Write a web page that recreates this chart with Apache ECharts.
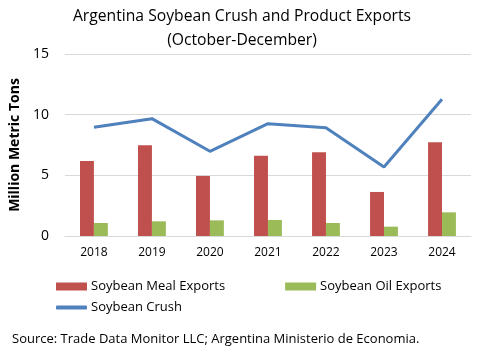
<!DOCTYPE html>
<html>
<head>
<meta charset="utf-8">
<script src="https://cdn.jsdelivr.net/npm/echarts@6/dist/echarts.min.js"></script>
<style>html,body{margin:0;padding:0;background:#fff}#c{width:484px;height:363px}</style>
</head>
<body>
<div id="c"></div>
<script>
var categories = ['2018','2019','2020','2021','2022','2023','2024'];
var mealExports = [6.18, 7.47, 4.95, 6.62, 6.90, 3.63, 7.72];
var oilExports = [1.07, 1.21, 1.29, 1.32, 1.07, 0.77, 1.95];
var crush = [8.96, 9.67, 6.98, 9.26, 8.93, 5.69, 11.27];
var yTicks = [0, 5, 10, 15];

var FONT = 'Open Sans';
var chart = echarts.init(document.getElementById('c'), null, {renderer: 'canvas'});
chart.setOption({
  animation: false,
  backgroundColor: '#fff',
  title: {
    text: 'Argentina Soybean Crush and Product Exports\n(October-December)',
    left: 'center', top: 0,
    textStyle: {fontFamily: FONT, fontSize: 15.7, fontWeight: 'normal', color: '#000', lineHeight: 24}
  },
  legend: [{
    left: 51, top: 275, itemWidth: 31, itemHeight: 8, itemGap: 60, icon: 'rect',
    data: ['Soybean Meal Exports', 'Soybean Oil Exports'],
    textStyle: {fontFamily: FONT, fontSize: 13, color: '#000', padding: [0,0,0,-1]}
  }, {
    left: 51, top: 296, itemWidth: 31, itemHeight: 4, icon: 'roundRect',
    data: ['Soybean Crush'],
    textStyle: {fontFamily: FONT, fontSize: 13, color: '#000', padding: [0,0,0,-1]}
  }],
  grid: {left: 60, right: 13, top: 54, bottom: 127},
  xAxis: {
    type: 'category', data: categories,
    axisLine: {show: true, lineStyle: {color: '#d9d9d9', width: 1}},
    axisTick: {show: false},
    axisLabel: {fontFamily: FONT, fontSize: 12, color: '#000', margin: 11}
  },
  yAxis: {
    type: 'value', min: yTicks[0], max: yTicks[yTicks.length-1], interval: 5,
    name: 'Million Metric Tons', nameLocation: 'middle', nameGap: 35,
    nameTextStyle: {fontFamily: FONT, fontSize: 14, fontWeight: 'bold', color: '#000'},
    axisLine: {show: false}, axisTick: {show: false},
    axisLabel: {fontFamily: FONT, fontSize: 14, color: '#000', margin: 16},
    splitLine: {lineStyle: {color: '#d9d9d9', width: 1}}
  },
  series: [{
    name: 'Soybean Meal Exports', type: 'bar', data: mealExports,
    itemStyle: {color: '#c0504d'}, barGap: '0%', barCategoryGap: '52%'
  }, {
    name: 'Soybean Oil Exports', type: 'bar', data: oilExports,
    itemStyle: {color: '#9bbb59'}, barGap: '0%', barCategoryGap: '52%'
  }, {
    name: 'Soybean Crush', type: 'line', data: crush,
    showSymbol: false, symbol: 'none',
    lineStyle: {color: '#4f81bd', width: 3}, itemStyle: {color: '#4f81bd'}
  }],
  graphic: [{
    type: 'text', left: 12, top: 333,
    style: {text: 'Source: Trade Data Monitor LLC; Argentina Ministerio de Economia.',
      font: '13px "Open Sans"', fill: '#000'}
  }]
});
</script>
</body>
</html>
